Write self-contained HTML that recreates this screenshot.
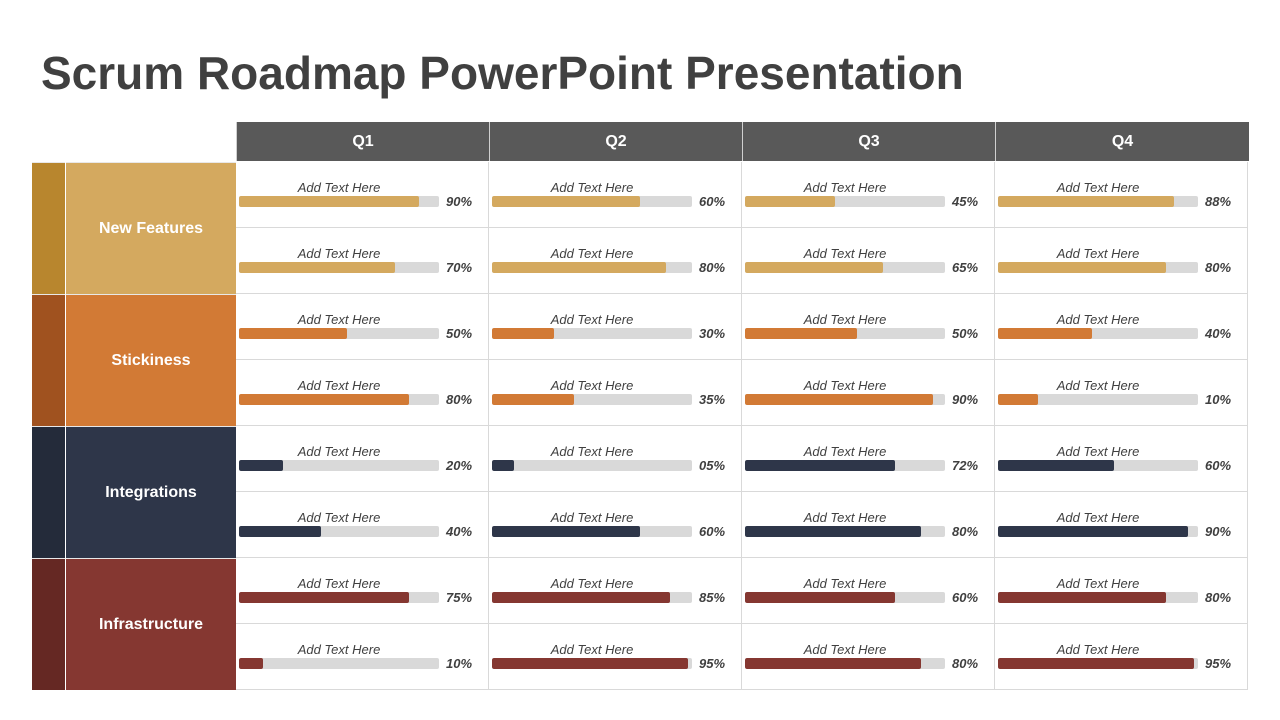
<!DOCTYPE html>
<html><head><meta charset="utf-8"><style>
*{margin:0;padding:0;box-sizing:border-box}
body{width:1280px;height:720px;background:#fff;position:relative;overflow:hidden;font-family:"Liberation Sans",sans-serif}
h1{position:absolute;left:41px;top:46px;font-size:46px;font-weight:bold;color:#404040;letter-spacing:0px}
.h{position:absolute;top:122px;height:39px;background:#595959;color:#fff;font-weight:bold;font-size:16px;text-align:center;line-height:39px;border-left:1px solid #d0d0d0}
.c{position:absolute;width:253px;height:66px;border-right:1px solid #d9d9d9;border-bottom:1px solid #d9d9d9}
.c i{position:absolute;left:3px;width:200px;top:18px;text-align:center;font-size:13px;color:#404040}
.c b{position:absolute;left:3px;top:34px;width:200px;height:11px;background:#d9d9d9;border-radius:2px;overflow:hidden}
.c b s{display:block;height:100%;border-radius:2px}
.c em{position:absolute;left:210px;top:32px;font-size:13px;font-weight:bold;color:#404040}
.s{position:absolute;left:32px;width:33px;height:132px;border-top:1px solid #e8e8e8}
.l{position:absolute;left:66px;width:170px;height:132px;color:#fff;font-weight:bold;font-size:16px;display:flex;align-items:center;justify-content:center;border-top:1px solid #e8e8e8}
.g s{background:#D4A95F}.o s{background:#D27A35}.n s{background:#2E3649}.r s{background:#853731}
</style></head><body>
<h1>Scrum Roadmap PowerPoint Presentation</h1>
<div class="h" style="left:236px;width:253px">Q1</div>
<div class="h" style="left:489px;width:253px">Q2</div>
<div class="h" style="left:742px;width:253px">Q3</div>
<div class="h" style="left:995px;width:254px">Q4</div>

<div class="s" style="top:162px;background:#B8862E"></div><div class="l" style="top:162px;background:#D4A95F">New Features</div>
<div class="s" style="top:294px;background:#A0521F"></div><div class="l" style="top:294px;background:#D27A35">Stickiness</div>
<div class="s" style="top:426px;background:#242B3A"></div><div class="l" style="top:426px;background:#2E3649">Integrations</div>
<div class="s" style="top:558px;background:#652823"></div><div class="l" style="top:558px;background:#853731">Infrastructure</div>

<div class="c g" style="left:236px;top:162px"><i>Add Text Here</i><b><s style="width:90%"></s></b><em>90%</em></div>
<div class="c g" style="left:489px;top:162px"><i>Add Text Here</i><b><s style="width:74%"></s></b><em>60%</em></div>
<div class="c g" style="left:742px;top:162px"><i>Add Text Here</i><b><s style="width:45%"></s></b><em>45%</em></div>
<div class="c g" style="left:995px;top:162px"><i>Add Text Here</i><b><s style="width:88%"></s></b><em>88%</em></div>
<div class="c g" style="left:236px;top:228px"><i>Add Text Here</i><b><s style="width:78%"></s></b><em>70%</em></div>
<div class="c g" style="left:489px;top:228px"><i>Add Text Here</i><b><s style="width:87%"></s></b><em>80%</em></div>
<div class="c g" style="left:742px;top:228px"><i>Add Text Here</i><b><s style="width:69%"></s></b><em>65%</em></div>
<div class="c g" style="left:995px;top:228px"><i>Add Text Here</i><b><s style="width:84%"></s></b><em>80%</em></div>

<div class="c o" style="left:236px;top:294px"><i>Add Text Here</i><b><s style="width:54%"></s></b><em>50%</em></div>
<div class="c o" style="left:489px;top:294px"><i>Add Text Here</i><b><s style="width:31%"></s></b><em>30%</em></div>
<div class="c o" style="left:742px;top:294px"><i>Add Text Here</i><b><s style="width:56%"></s></b><em>50%</em></div>
<div class="c o" style="left:995px;top:294px"><i>Add Text Here</i><b><s style="width:47%"></s></b><em>40%</em></div>
<div class="c o" style="left:236px;top:360px"><i>Add Text Here</i><b><s style="width:85%"></s></b><em>80%</em></div>
<div class="c o" style="left:489px;top:360px"><i>Add Text Here</i><b><s style="width:41%"></s></b><em>35%</em></div>
<div class="c o" style="left:742px;top:360px"><i>Add Text Here</i><b><s style="width:94%"></s></b><em>90%</em></div>
<div class="c o" style="left:995px;top:360px"><i>Add Text Here</i><b><s style="width:20%"></s></b><em>10%</em></div>

<div class="c n" style="left:236px;top:426px"><i>Add Text Here</i><b><s style="width:22%"></s></b><em>20%</em></div>
<div class="c n" style="left:489px;top:426px"><i>Add Text Here</i><b><s style="width:11%"></s></b><em>05%</em></div>
<div class="c n" style="left:742px;top:426px"><i>Add Text Here</i><b><s style="width:75%"></s></b><em>72%</em></div>
<div class="c n" style="left:995px;top:426px"><i>Add Text Here</i><b><s style="width:58%"></s></b><em>60%</em></div>
<div class="c n" style="left:236px;top:492px"><i>Add Text Here</i><b><s style="width:41%"></s></b><em>40%</em></div>
<div class="c n" style="left:489px;top:492px"><i>Add Text Here</i><b><s style="width:74%"></s></b><em>60%</em></div>
<div class="c n" style="left:742px;top:492px"><i>Add Text Here</i><b><s style="width:88%"></s></b><em>80%</em></div>
<div class="c n" style="left:995px;top:492px"><i>Add Text Here</i><b><s style="width:95%"></s></b><em>90%</em></div>

<div class="c r" style="left:236px;top:558px"><i>Add Text Here</i><b><s style="width:85%"></s></b><em>75%</em></div>
<div class="c r" style="left:489px;top:558px"><i>Add Text Here</i><b><s style="width:89%"></s></b><em>85%</em></div>
<div class="c r" style="left:742px;top:558px"><i>Add Text Here</i><b><s style="width:75%"></s></b><em>60%</em></div>
<div class="c r" style="left:995px;top:558px"><i>Add Text Here</i><b><s style="width:84%"></s></b><em>80%</em></div>
<div class="c r" style="left:236px;top:624px"><i>Add Text Here</i><b><s style="width:12%"></s></b><em>10%</em></div>
<div class="c r" style="left:489px;top:624px"><i>Add Text Here</i><b><s style="width:98%"></s></b><em>95%</em></div>
<div class="c r" style="left:742px;top:624px"><i>Add Text Here</i><b><s style="width:88%"></s></b><em>80%</em></div>
<div class="c r" style="left:995px;top:624px"><i>Add Text Here</i><b><s style="width:98%"></s></b><em>95%</em></div>
</body></html>
